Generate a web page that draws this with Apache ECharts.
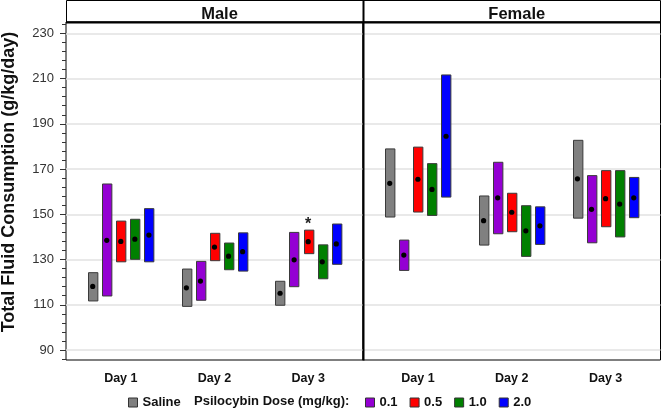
<!DOCTYPE html>
<html>
<head>
<meta charset="utf-8">
<script src="https://cdn.jsdelivr.net/npm/echarts@6/dist/echarts.min.js"></script>
<style>
html,body{margin:0;padding:0;background:#fff;}
#c{width:662px;height:408px;}
</style>
</head>
<body>
<div id="c"></div>
<script>
// ---- data: each row = [low, mean, high] for Day 1..3 ----
const days = ['Day 1', 'Day 2', 'Day 3'];
const panels = ['Male', 'Female'];
const doseNames = ['Saline', '0.1', '0.5', '1.0', '2.0'];
const yTicks = [90, 110, 130, 150, 170, 190, 210, 230];
const yTitle = 'Total Fluid Consumption (g/kg/day)';

const maleSaline = [[111.7, 118.1, 124.2], [109.3, 117.5, 125.8], [109.8, 115.1, 120.4]];
const male01     = [[113.9, 138.5, 163.4], [112.0, 120.5, 129.2], [118.0, 129.9, 142.0]];
const male05     = [[129.0, 138.0, 147.0], [129.5, 135.5, 141.6], [132.6, 137.9, 143.0]];
const male10     = [[130.1, 139.0, 147.8], [125.5, 131.5, 137.3], [121.5, 129.0, 136.5]];
const male20     = [[129.0, 140.8, 152.5], [124.9, 133.5, 141.8], [127.9, 136.9, 145.7]];

const femaleSaline = [[148.8, 163.7, 178.9], [136.4, 147.2, 158.1], [148.3, 165.7, 182.7]];
const female01     = [[125.2, 132.0, 138.6], [141.4, 157.3, 173.0], [137.4, 152.2, 167.1]];
const female05     = [[151.0, 165.5, 179.7], [142.3, 150.9, 159.3], [144.5, 156.9, 169.3]];
const female10     = [[149.5, 161.0, 172.4], [131.4, 142.7, 153.8], [140.0, 154.5, 169.3]];
const female20     = [[157.6, 184.5, 211.6], [136.7, 144.9, 153.3], [148.5, 157.3, 166.3]];

// significance marker: Male, Day 3, dose 0.5
const sigPanel = 0, sigDay = 3, sigDoseIndex = 2;

// ---- styling ----
const FONT = '"Liberation Sans", Arial, Helvetica, sans-serif';
const colors = ['#808080', '#9400d3', '#ff0000', '#008000', '#0000ff'];
const offsets = [-0.3, -0.15, 0, 0.15, 0.3];
const yMin = 85.6, yMax = 235;
const yMinor = [];
for (let v = 86; v <= 234; v += 4) { if (yTicks.indexOf(v) < 0) yMinor.push(v); }

const maleSets = [maleSaline, male01, male05, male10, male20];
const femaleSets = [femaleSaline, female01, female05, female10, female20];

function toData(rows) {
  return rows.map((r, i) => [i + 1, r[0], r[1], r[2]]);
}
function barRenderer(offset, color) {
  return function (params, api) {
    const x = api.value(0) + offset;
    const pTop = api.coord([x, api.value(3)]);
    const pBot = api.coord([x, api.value(1)]);
    const pMean = api.coord([x, api.value(2)]);
    const w = api.size([0.1, 0])[0];
    return {
      type: 'group',
      children: [
        { type: 'rect', shape: { x: Math.round(pTop[0] - w / 2) + 0.5, y: pTop[1], width: w, height: pBot[1] - pTop[1] },
          style: { fill: color, stroke: '#3a3a3a', lineWidth: 1 } },
        { type: 'circle', shape: { cx: pMean[0], cy: pMean[1], r: 2.6 }, style: { fill: '#000' } }
      ]
    };
  };
}

const series = [];
[maleSets, femaleSets].forEach((sets, p) => {
  sets.forEach((rows, d) => {
    series.push({
      type: 'custom',
      name: doseNames[d],
      xAxisIndex: p,
      yAxisIndex: p === 0 ? 0 : 2,
      itemStyle: { color: colors[d], borderColor: '#333', borderWidth: 1 },
      renderItem: barRenderer(offsets[d], colors[d]),
      encode: { x: 0, y: [1, 2, 3] },
      data: toData(rows),
      silent: true,
      z: 3
    });
  });
});
// star
const sigSets = sigPanel === 0 ? maleSets : femaleSets;
series.push({
  type: 'custom',
  name: 'sig',
  xAxisIndex: sigPanel,
  yAxisIndex: sigPanel === 0 ? 0 : 2,
  renderItem: function (params, api) {
    const p = api.coord([api.value(0) + offsets[sigDoseIndex], api.value(1)]);
    return { type: 'text', x: p[0], y: p[1] + 2,
      style: { text: '*', fill: '#222', font: 'bold 16px ' + FONT, textAlign: 'center', textVerticalAlign: 'bottom' } };
  },
  encode: { x: 0, y: 1 },
  data: [[sigDay, sigSets[sigDoseIndex][sigDay - 1][2]]],
  silent: true,
  z: 4
});

const xAxisBase = (gi) => ({
  type: 'value', gridIndex: gi, min: 0.415, max: 3.585,
  axisLine: { show: false }, axisTick: { show: false }, splitLine: { show: false },
  axisLabel: {
    customValues: [1, 2, 3],
    formatter: v => (Number.isInteger(v) && v >= 1 && v <= 3) ? days[v - 1] : '',
    fontFamily: FONT, fontWeight: 'bold', fontSize: 12.5, color: '#111', margin: 12
  }
});

const option = {
  animation: false,
  backgroundColor: '#fff',
  textStyle: { fontFamily: FONT },
  grid: [
    { left: 66, top: 22, width: 297, height: 338, show: true, borderColor: '#000', borderWidth: 1, backgroundColor: 'transparent' },
    { left: 363, top: 22, width: 297.5, height: 338, show: true, borderColor: '#000', borderWidth: 1, backgroundColor: 'transparent' }
  ],
  xAxis: [xAxisBase(0), xAxisBase(1)],
  yAxis: [
    { type: 'value', gridIndex: 0, min: yMin, max: yMax, position: 'left',
      axisLine: { show: false },
      axisTick: { show: true, customValues: yTicks, length: 6, lineStyle: { color: '#333', width: 1 } },
      axisLabel: { customValues: yTicks, fontFamily: FONT, fontSize: 13, color: '#333', margin: 12 },
      splitLine: { show: true, lineStyle: { color: '#e2e2e2', width: 1.5 } } },
    { type: 'value', gridIndex: 0, min: yMin, max: yMax, position: 'left', offset: 0,
      axisLine: { show: false },
      axisTick: { show: true, customValues: yMinor, length: 4, lineStyle: { color: '#333', width: 1 } },
      axisLabel: { show: false }, splitLine: { show: false } },
    { type: 'value', gridIndex: 1, min: yMin, max: yMax, position: 'left',
      axisLine: { show: false },
      axisTick: { show: false, customValues: yTicks },
      axisLabel: { show: false, customValues: yTicks },
      splitLine: { show: true, lineStyle: { color: '#e2e2e2', width: 1.5 } } }
  ],
  title: [
    { text: panels[0], left: 214.5, top: 1, textAlign: 'center',
      textStyle: { fontFamily: FONT, fontWeight: 'bold', fontSize: 16.5, color: '#111' } },
    { text: panels[1], left: 511.8, top: 1, textAlign: 'center',
      textStyle: { fontFamily: FONT, fontWeight: 'bold', fontSize: 16.5, color: '#111' } }
  ],
  legend: [
    { data: [doseNames[0]], left: 128, top: 396, icon: 'rect', itemWidth: 9, itemHeight: 9, itemGap: 11,
      selectedMode: false, padding: 0,
      itemStyle: { borderColor: '#333', borderWidth: 1 },
      textStyle: { fontFamily: FONT, fontWeight: 'bold', fontSize: 13, color: '#111' } },
    { data: doseNames.slice(1), left: 365, top: 396, icon: 'rect', itemWidth: 9, itemHeight: 9, itemGap: 12,
      selectedMode: false, padding: 0,
      itemStyle: { borderColor: '#333', borderWidth: 1 },
      textStyle: { fontFamily: FONT, fontWeight: 'bold', fontSize: 13, color: '#111' } }
  ],
  graphic: [
    { type: 'rect', shape: { x: 66.5, y: 0.5, width: 594, height: 21.5 }, style: { fill: 'none', stroke: '#000', lineWidth: 1 }, z: 10 },
    { type: 'line', shape: { x1: 66, y1: 22.5, x2: 661, y2: 22.5 }, style: { stroke: '#000', lineWidth: 2 }, z: 10 },
    { type: 'line', shape: { x1: 363.5, y1: 0, x2: 363.5, y2: 360.5 }, style: { stroke: '#000', lineWidth: 2 }, z: 10 },
    { type: 'text', x: 194, y: 401, style: { text: 'Psilocybin Dose (mg/kg):', font: 'bold 13px ' + FONT, fill: '#111', textVerticalAlign: 'middle' } },
    { type: 'text', x: 9.5, y: 182, rotation: Math.PI / 2,
      style: { text: yTitle, font: 'bold 18px ' + FONT, fill: '#111', textAlign: 'center', textVerticalAlign: 'middle' } }
  ],
  series: series
};

const chart = echarts.init(document.getElementById('c'), null, { renderer: 'canvas' });
chart.setOption(option);
</script>
</body>
</html>
